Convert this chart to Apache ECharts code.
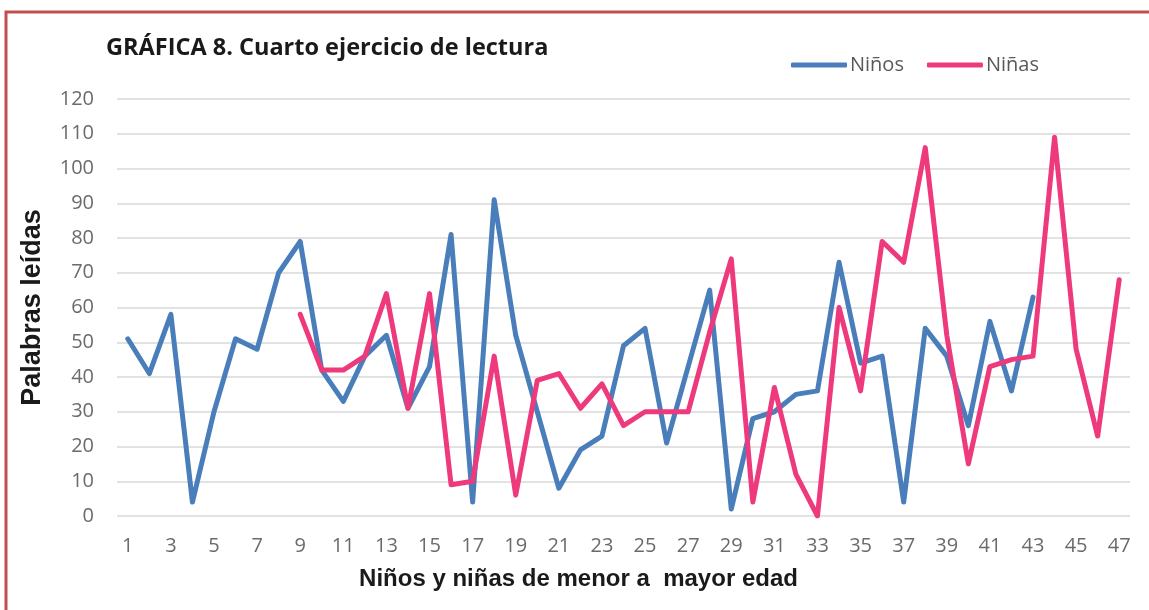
<!DOCTYPE html>
<html>
<head>
<meta charset="utf-8">
<script src="https://cdn.jsdelivr.net/npm/echarts@6/dist/echarts.min.js"></script>
<style>
  html, body { margin: 0; padding: 0; background: #fff; }
  #chart { width: 1149px; height: 610px; }
</style>
</head>
<body>
<div id="chart"></div>
<script>
// categories 1..47 (niños y niñas de menor a mayor edad)
const categories = [
  '1', '2', '3', '4', '5', '6', '7', '8', '9', '10',
  '11', '12', '13', '14', '15', '16', '17', '18', '19', '20',
  '21', '22', '23', '24', '25', '26', '27', '28', '29', '30',
  '31', '32', '33', '34', '35', '36', '37', '38', '39', '40',
  '41', '42', '43', '44', '45', '46', '47'
];

const ninos = [
  51, 41, 58, 4, 30, 51, 48, 70, 79, 42,
  33, 46, 52, 31, 43, 81, 4, 91, 52, 30,
  8, 19, 23, 49, 54, 21, 43, 65, 2, 28,
  30, 35, 36, 73, 44, 46, 4, 54, 46, 26,
  56, 36, 63, null, null, null, null
];

const ninas = [
  null, null, null, null, null, null, null, null, 58, 42,
  42, 46, 64, 31, 64, 9, 10, 46, 6, 39,
  41, 31, 38, 26, 30, 30, 30, 53, 74, 4,
  37, 12, 0, 60, 36, 79, 73, 106, 52, 15,
  43, 45, 46, 109, 48, 23, 68
];

const chart = echarts.init(document.getElementById('chart'), null, { renderer: 'canvas' });

const lineStyle = (color) => ({
  color: color,
  width: 5,
  cap: 'round',
  join: 'round'
});

chart.setOption({
  animation: false,
  backgroundColor: '#fff',
  title: {
    text: 'GRÁFICA 8. Cuarto ejercicio de lectura',
    left: 101,
    top: 31,
    textStyle: {
      fontFamily: 'Open Sans',
      fontWeight: 'bold',
      fontSize: 23.5,
      color: '#1a1a1a'
    }
  },
  legend: {
    top: 50,
    left: 786,
    itemWidth: 56,
    itemHeight: 5,
    itemGap: 23,
    icon: 'roundRect',
    textStyle: {
      fontFamily: 'Open Sans',
      fontSize: 20,
      color: '#595959',
      padding: [0, 0, 0, -2]
    },
    data: ['Niños', 'Niñas']
  },
  grid: {
    left: 117,
    right: 19,
    top: 99,
    bottom: 94,
    containLabel: false
  },
  xAxis: {
    type: 'category',
    data: categories,
    boundaryGap: true,
    name: 'Niños y niñas de menor a  mayor edad',
    nameLocation: 'middle',
    nameGap: 51,
    nameTextStyle: {
      fontFamily: 'Liberation Sans',
      fontWeight: 'bold',
      fontSize: 24,
      color: '#1a1a1a',
      padding: [0, 90, 0, 0]
    },
    axisLine: { show: false },
    axisTick: { show: false },
    axisLabel: {
      interval: 1,
      margin: 20,
      fontFamily: 'Open Sans',
      fontSize: 20,
      color: '#6b6b6b'
    },
    splitLine: { show: false }
  },
  yAxis: {
    type: 'value',
    min: 0,
    max: 120,
    interval: 10,
    name: 'Palabras leídas',
    nameLocation: 'middle',
    nameGap: 71,
    nameTextStyle: {
      fontFamily: 'Liberation Sans',
      fontWeight: 'bold',
      fontSize: 27,
      color: '#1a1a1a'
    },
    axisLine: { show: false },
    axisTick: { show: false },
    axisLabel: {
      margin: 23,
      fontFamily: 'Open Sans',
      fontSize: 20,
      color: '#6b6b6b'
    },
    splitLine: {
      lineStyle: { color: '#d9d9d9', width: 1.5 }
    }
  },
  graphic: [
    {
      type: 'polyline',
      shape: { points: [[6, 610], [6, 12], [1149, 12]] },
      style: { stroke: '#c0504d', lineWidth: 3, fill: null }
    }
  ],
  series: [
    {
      name: 'Niños',
      type: 'line',
      data: ninos,
      symbol: 'none',
      connectNulls: false,
      color: '#4a7ebb',
      lineStyle: lineStyle('#4a7ebb')
    },
    {
      name: 'Niñas',
      type: 'line',
      data: ninas,
      symbol: 'none',
      connectNulls: false,
      color: '#ee3a7c',
      lineStyle: lineStyle('#ee3a7c')
    }
  ]
});
</script>
</body>
</html>
